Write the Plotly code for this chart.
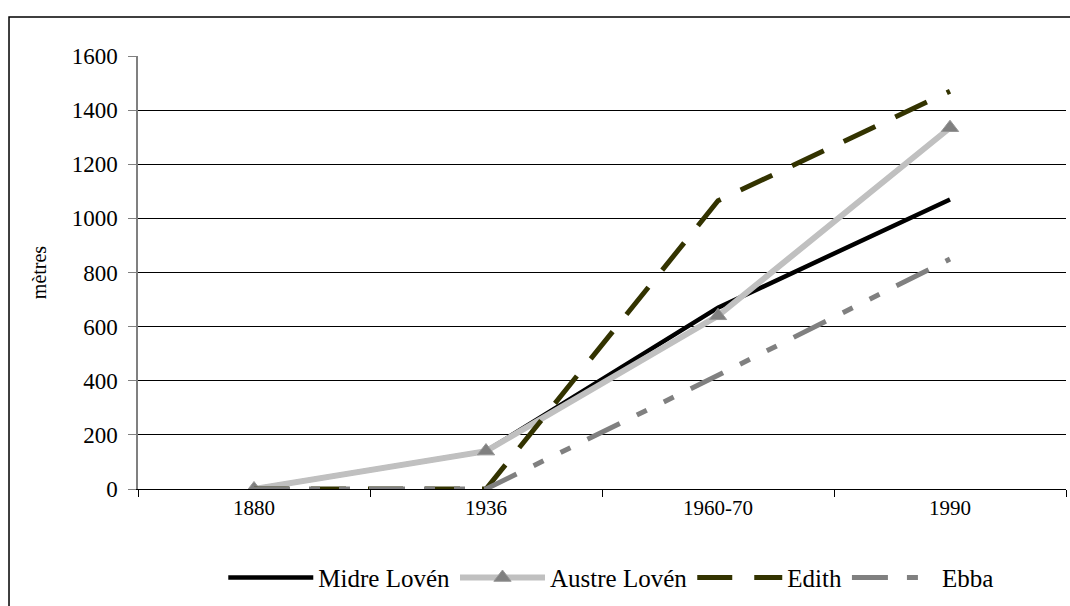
import plotly.graph_objects as go

years = ["1880", "1936", "1960-70", "1990"]
midre = [0, 140, 670, 1070]
austre = [0, 140, 640, 1335]
edith = [0, 0, 1065, 1470]
ebba = [0, 0, 420, 850]

fig = go.Figure()
fig.add_trace(go.Scatter(x=years, y=midre, name="Midre Lovén", mode="lines",
                         line=dict(color="#000000", width=4.5)))
fig.add_trace(go.Scatter(x=years, y=austre, name="Austre Lovén", mode="lines+markers",
                         line=dict(color="#c0c0c0", width=6),
                         marker=dict(symbol="triangle-up", size=15, color="#808080",
                                     line=dict(color="#969696", width=1))))
fig.add_trace(go.Scatter(x=years, y=edith, name="Edith", mode="lines",
                         line=dict(color="#333300", width=5, dash="35px,22px")))
fig.add_trace(go.Scatter(x=years, y=ebba, name="Ebba", mode="lines",
                         line=dict(color="#808080", width=5,
                                   dash="36px,19px,11px,19px,11px,19px")))

font = "Liberation Serif, Times New Roman, serif"
fig.update_layout(
    width=1070, height=606,
    margin=dict(l=138, r=4, t=56, b=117),
    paper_bgcolor="white", plot_bgcolor="white",
    font=dict(family=font, size=21, color="#000000"),
    xaxis=dict(type="category", range=[-0.5, 3.5], tickson="boundaries",
               ticks="outside", ticklen=7, tickcolor="#000000",
               showline=True, linecolor="#000000", linewidth=1,
               showgrid=False, zeroline=False, tickfont=dict(size=21)),
    yaxis=dict(range=[0, 1600], dtick=200, ticks="outside", ticklen=8,
               tickcolor="#808080", showline=True, linecolor="#808080", linewidth=1.5,
               showgrid=True, gridcolor="#000000", gridwidth=1, zeroline=False,
               tickfont=dict(size=23), ticklabelstandoff=6,
               title=dict(text="mètres", font=dict(size=20), standoff=20)),
    legend=dict(orientation="h", x=0.51, xanchor="center", y=-0.205, yanchor="middle",
                font=dict(size=25), itemwidth=85, bgcolor="rgba(0,0,0,0)"),
    shapes=[dict(type="rect", xref="paper", yref="paper",
                 x0=-0.139, x1=1.02, y0=-0.3, y1=1.09,
                 line=dict(color="#000000", width=1.5), layer="below")],
)

fig.write_html("out.html", config={"displayModeBar": False},
               post_script="document.body.style.margin='0';")
